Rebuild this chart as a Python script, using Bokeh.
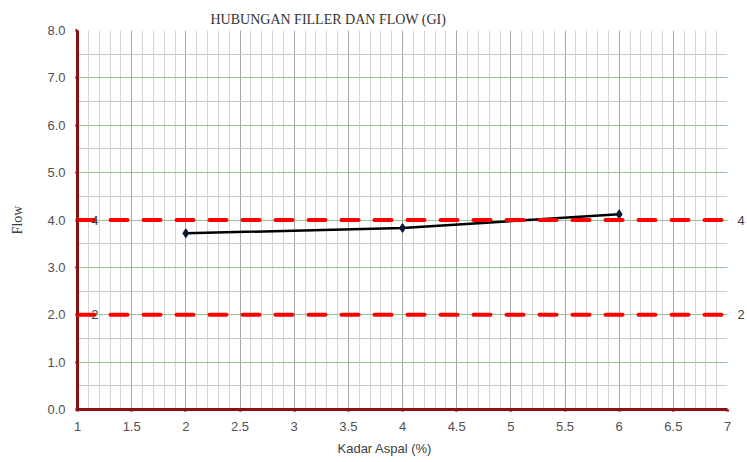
from bokeh.plotting import figure
from bokeh.models import (Span, Label, SingleIntervalTicker, NumeralTickFormatter,
                          ColumnDataSource, LinearAxis, FixedTicker, Title)
from bokeh.embed import file_html
from bokeh.resources import INLINE

# ---- data ----
kadar_aspal = [2, 4, 6]
flow = [3.72, 3.83, 4.12]
limits = [4, 2]
limit_labels = ["4", "2"]
title_text = "HUBUNGAN FILLER DAN FLOW (GI)"
x_label = "Kadar Aspal (%)"
y_label = "Flow"

p = figure(width=747, height=462, output_backend="svg", toolbar_location=None,
           x_range=(1, 7), y_range=(0, 8),
           min_border_left=77, min_border_right=20, min_border_top=30, min_border_bottom=53)
p.title.text = title_text
p.title.align = "left"
p.title.offset = 133
p.title.text_font = "Liberation Serif"
p.title.text_font_size = "14px"
p.title.text_font_style = "normal"
p.title.text_color = "#333333"
p.title.standoff = 7
p.outline_line_color = None
p.background_fill_color = "white"

# axes
p.xaxis.ticker = SingleIntervalTicker(interval=0.5, num_minor_ticks=5)
p.yaxis.ticker = SingleIntervalTicker(interval=1, num_minor_ticks=2)
p.xaxis.formatter = NumeralTickFormatter(format="0.[0]")
p.yaxis.formatter = NumeralTickFormatter(format="0.0")
for ax in (p.xaxis[0], p.yaxis[0]):
    ax.axis_line_color = "#8b1010"
    ax.axis_line_width = 3
    ax.major_tick_line_color = "#8b1010"
    ax.major_tick_line_width = 3
    ax.major_tick_out = 2
    ax.major_tick_in = 0
    ax.minor_tick_line_color = None
    ax.major_label_text_font = "Liberation Sans"
    ax.major_label_text_font_size = "13px"
    ax.major_label_text_color = "#505050"
p.xaxis.major_label_standoff = 8
p.yaxis.major_label_standoff = 8
p.yaxis.axis_label = y_label
p.yaxis.axis_label_text_font = "Liberation Serif"
p.yaxis.axis_label_text_font_size = "14px"
p.yaxis.axis_label_text_font_style = "normal"
p.yaxis.axis_label_text_color = "#404040"
p.yaxis.axis_label_standoff = 19

# right axis carrying the limit labels
rax = LinearAxis(ticker=FixedTicker(ticks=limits),
                 formatter=NumeralTickFormatter(format="0"),
                 axis_line_color=None, major_tick_line_color=None,
                 major_tick_out=0, major_tick_in=0,
                 minor_tick_line_color=None, minor_tick_out=0, minor_tick_in=0,
                 major_label_standoff=10,
                 major_label_text_font="Liberation Sans",
                 major_label_text_font_size="13px",
                 major_label_text_color="#404040")
p.add_layout(rax, "right")

# x axis label (offset left as in the original)
p.add_layout(Title(text=x_label, align="left", offset=260, standoff=10,
                   text_font="Liberation Sans", text_font_size="13px",
                   text_font_style="normal", text_color="#404040"), "below")

# grids
p.xgrid.grid_line_color = "#a8a8a8"
p.xgrid.grid_line_width = 1
p.xgrid.minor_grid_line_color = "#d4d4d4"
p.xgrid.minor_grid_line_width = 1
p.ygrid.grid_line_color = "#7fbf7f"
p.ygrid.grid_line_dash = "2 1"
p.ygrid.grid_line_width = 1
p.ygrid.minor_grid_line_color = "#c8c8c8"
p.ygrid.minor_grid_line_width = 1

# limit lines
for lv, lt in zip(limits, limit_labels):
    p.add_layout(Span(location=lv, dimension="width", line_color="#ff0000",
                      line_width=4, line_dash="17 16", line_cap="round"))
    p.add_layout(Label(x=1.16, y=lv, text=lt, text_align="center", text_baseline="middle",
                       text_font="Liberation Sans", text_font_size="13px",
                       text_color="#404040"))

src = ColumnDataSource(dict(x=kadar_aspal, y=flow))
p.line("x", "y", source=src, line_color="#000000", line_width=2.5)
p.scatter("x", "y", source=src, marker="diamond", size=9, fill_color="#0a1a3a",
          line_color="#0a1a3a")

open("out.html", "w").write(file_html(p, INLINE))
